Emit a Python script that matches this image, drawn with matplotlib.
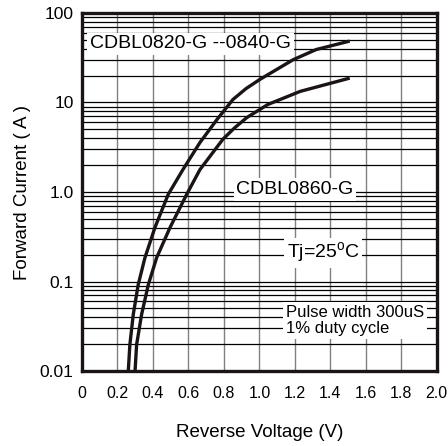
import numpy as np
import matplotlib
matplotlib.use("Agg")
import matplotlib.pyplot as plt
from matplotlib.ticker import FixedLocator, LogLocator, NullFormatter

plt.rcParams['font.family'] = ['Liberation Sans', 'DejaVu Sans']

# curves (V, A)
v_0820 = [0.261, 0.270, 0.289, 0.317, 0.355, 0.411, 0.486, 0.569, 0.665, 0.761, 0.851, 0.925, 1.003, 1.19, 1.32, 1.50]
i_0820 = [0.01, 0.0198, 0.0428, 0.0925, 0.185, 0.40, 0.94, 1.78, 3.57, 6.45, 10.8, 14.3, 18.1, 30.0, 39.0, 48.0]
v_0860 = [0.299, 0.308, 0.336, 0.374, 0.421, 0.496, 0.590, 0.665, 0.795, 0.86, 0.93, 1.048, 1.23, 1.50]
i_0860 = [0.01, 0.0198, 0.0428, 0.0925, 0.185, 0.40, 0.94, 1.78, 3.9, 5.2, 6.8, 9.5, 13.3, 18.5]

x_ticks = [0, 0.2, 0.4, 0.6, 0.8, 1.0, 1.2, 1.4, 1.6, 1.8, 2.0]
x_labels = ["0", "0.2", "0.4", "0.6", "0.8", "1.0", "1.2", "1.4", "1.6", "1.8", "2.0"]
y_ticks = [0.01, 0.1, 1.0, 10, 100]
y_labels = ["0.01", "0.1", "1.0", "10", "100"]

fig = plt.figure(figsize=(4.48, 4.46), dpi=100)
ax = fig.add_axes([0.183, 0.168, 0.792, 0.803])
ax.set_yscale('log')
ax.set_xlim(0, 2.0)
ax.set_ylim(0.01, 100)

# grid
for xv in x_ticks[1:-1]:
    ax.axvline(xv, color='#808080', lw=1.0, zorder=1)
ax.yaxis.set_minor_locator(LogLocator(base=10, subs=np.arange(2, 10)))
ax.yaxis.set_minor_formatter(NullFormatter())
ax.grid(True, which='both', axis='y', color='black', lw=0.9, zorder=1)

ax.plot(v_0820, i_0820, color='#1a1414', lw=2.4, zorder=3, solid_joinstyle='round')
ax.plot(v_0860, i_0860, color='#1a1414', lw=2.4, zorder=3, solid_joinstyle='round')

ax.xaxis.set_major_locator(FixedLocator(x_ticks))
ax.set_xticklabels(x_labels)
ax.yaxis.set_major_locator(FixedLocator(y_ticks))
ax.set_yticklabels(y_labels)
ax.tick_params(axis='both', which='both', length=0)
ax.tick_params(axis='x', labelsize=11.5, pad=11)
ax.tick_params(axis='y', labelsize=12.5, pad=6)

for s in ['left', 'bottom', 'top', 'right']:
    ax.spines[s].set_linewidth(2.4)
    ax.spines[s].set_color('#1a1414')

box = dict(facecolor='white', edgecolor='none', pad=2)
ax.text(0.045, 45, "CDBL0820-G --0840-G", fontsize=14, va='center', ha='left', bbox=box, zorder=4)
ax.text(1.20, 1.07, "CDBL0860-G", fontsize=14, va='center', ha='center', bbox=box, zorder=4)
ax.text(1.36, 0.21, "Tj=25$^\\mathregular{o}$C", fontsize=14, va='center', ha='center', bbox=box, zorder=4)
ax.text(1.15, 0.037, "Pulse width 300uS\n1% duty cycle", fontsize=12, va='center', ha='left',
        linespacing=1.1, bbox=box, zorder=4)

ax.set_xlabel("Reverse Voltage (V)", fontsize=13.5)
ax.xaxis.set_label_coords(0.5, -0.148)
ax.set_ylabel("Forward Current ( A )", fontsize=13.5)
ax.yaxis.set_label_coords(-0.145, 0.5)

fig.savefig("out.png", dpi=100)
